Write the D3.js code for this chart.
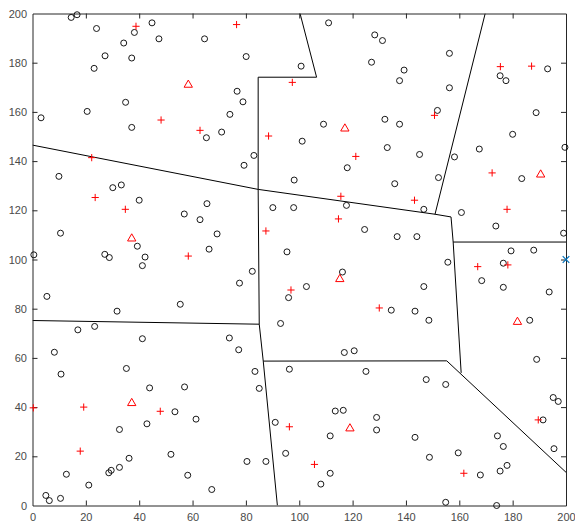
<!DOCTYPE html>
<html>
<head>
<meta charset="utf-8">
<script src="https://cdn.jsdelivr.net/npm/d3@7"></script>
<style>
    html, body { margin: 0; padding: 0; background: #fff; }
    svg { display: block; font-family: 'Liberation Sans', Arial, sans-serif; }
</style>
</head>
<body>
<svg id="chart" width="575" height="523"></svg>
<script>
// black circles
let circlePts = [
    [14.5, 198.4], [16.7, 199.5], [24, 193.9], [38.2, 192.3], [44.8, 196.2], [47.4, 189.7], [64.5, 189.7],
    [34.2, 188], [27.2, 182.8], [37.2, 181.9], [23.1, 177.7], [34.9, 163.9], [3.2, 157.6], [20.5, 160.2],
    [37.2, 153.7], [65.2, 149.5], [9.9, 133.8],
    [80.1, 182.5], [100.7, 178.6], [111, 196.2], [128.3, 191.3], [131.2, 189], [127.1, 180.2], [76.7, 168.4],
    [78.9, 164.1], [74, 159], [70.9, 151.8], [109.1, 155], [132.1, 157], [133, 145.5], [101.1, 148.1],
    [118, 137.3], [83, 142.3], [79.3, 138.3], [98.1, 132.3],
    [156.3, 183.8], [139.3, 177], [137.6, 172.7], [156.3, 169.8], [193.1, 177.5], [175.3, 174.7], [177.5, 172.7],
    [137.6, 155], [151.8, 160.6], [188.8, 159.7], [180, 150.9], [145.1, 142.7], [158.2, 141.7], [167.5, 144.9],
    [199.6, 145.6], [183.4, 132.9], [152.2, 133.3],
    [30.1, 129.2], [33.3, 130.3], [40, 124.1], [65.4, 122.7], [56.9, 118.5], [62.8, 116.2], [10.5, 110.7],
    [39.3, 105.4], [0.5, 101.9], [27.1, 102.1], [28.8, 100.8], [42.2, 101], [41.2, 97.5], [66.2, 104.2],
    [5.4, 85], [55.4, 81.8], [31.7, 79], [17, 71.4], [23.3, 72.8], [41.2, 67.8],
    [69.2, 110.4], [90.1, 121.1], [97.9, 121.1], [117.7, 122], [124.5, 112.2], [95.4, 103.1], [82.4, 95.2],
    [77.6, 90.4], [116.2, 94.9], [102.7, 89], [96, 84.5], [93, 74], [73.8, 68.1],
    [135.8, 130.8], [146.7, 120.4], [160.8, 119.1], [173.7, 113.6], [199.1, 110.7], [136.7, 109.3], [144.1, 109.3],
    [179.4, 103.5], [187.9, 103.8], [155.7, 98.9], [176.5, 98.5], [168.4, 91.4], [176.5, 88.7], [193.7, 86.8],
    [146.7, 89], [134.5, 79.4], [143.4, 79], [148.6, 75.3], [186.4, 75.3],
    [8.2, 62.3], [10.7, 53.4], [35.2, 55.7], [43.9, 47.8], [57, 48.2], [53.4, 38.1], [61.3, 35.1],
    [42.9, 33.2], [32.6, 30.9], [51.9, 20.8], [36.2, 19.2], [32.6, 15.5], [29.5, 14.3], [28.6, 13.3],
    [12.7, 12.7], [58.2, 12.3], [21.1, 8.3], [67.2, 6.5], [5, 4.1], [6.3, 2], [10.5, 2.9],
    [77.3, 63.3], [116.9, 62.2], [120.6, 62.9], [96.3, 55.4], [125, 54.5], [83.4, 54.5], [85, 47.6],
    [113.5, 38.4], [116.5, 38.7], [129, 35.8], [129, 30.7], [91, 33.8], [111.6, 28.3], [94.9, 21.2],
    [111.6, 13.1], [108.1, 8.7], [80.4, 17.9], [87.5, 17.9],
    [189, 59.4], [147.6, 51.2], [154.9, 49.2], [195.2, 43.9], [197.1, 42.3], [191.4, 34.8], [143.4, 27.7],
    [174.3, 28.3], [176.5, 24], [195.5, 23.1], [159.6, 21.4], [148.8, 19.6], [177.9, 16.3], [175.3, 14],
    [167.9, 12.4], [154.9, 1.3], [174, 0]
];

// red plus signs
let plusPts = [
    [38.8, 194.8], [48.2, 156.7], [62.8, 152.5], [22.2, 141.4], [76.5, 195.5], [97.4, 172], [88.5, 150.2],
    [121.2, 141.9], [175.4, 178.4], [187.1, 178.6], [150.7, 158.6], [172.3, 135.2], [23.5, 125.2], [34.8, 120.4],
    [58.4, 101.4], [115.6, 125.7], [114.7, 116.5], [87.5, 111.6], [96.9, 87.6], [130, 80.3], [143.2, 124.1],
    [177.9, 120.4], [166.9, 97.1], [178.2, 97.8], [0.3, 39.7], [19.2, 40], [47.9, 38.3], [17.9, 22.1],
    [96.3, 32], [105.7, 16.7], [189.6, 34.8], [161.7, 13.1]
];

// red triangles
let trianglePts = [
    [58.4, 171], [117.1, 153.2], [190.5, 134.5], [37.2, 108.5], [115.2, 92], [181.8, 74.6], [37.2, 41.6], [119, 31.3]
];

// blue cross
let crossPts = [[200, 100]];

// partition edges: x1, y1, x2, y2
let edges = [
    [0, 146.5, 84.6, 128.5],
    [84.6, 128.5, 84.6, 174.1],
    [84.6, 174.1, 106.5, 174.1],
    [106.5, 174.1, 100.3, 200],
    [84.6, 128.5, 150.9, 118.4],
    [150.9, 118.4, 169.7, 200],
    [150.9, 118.4, 156.9, 117.3],
    [156.9, 117.3, 157.7, 107.1],
    [157.7, 107.1, 200, 107.1],
    [157.7, 107.1, 160.7, 53.9],
    [155.3, 58.8, 200, 13.5],
    [86.5, 58.7, 155.3, 58.8],
    [84.6, 128.5, 85, 73.7],
    [0, 75.2, 85, 73.7],
    [85, 73.7, 86.5, 58.7],
    [86.5, 58.7, 91.8, 0]
];

let tickValues = [0, 20, 40, 60, 80, 100, 120, 140, 160, 180, 200];

function draw_chart(selector) {
    let svg = d3.select(selector),
        left = 32.5, right = 566, top = 13.5, bottom = 505.5,
        axisColor = '#262626',
        labelColor = '#4a4a4a',
        tickLen = 5;

    let x = d3.scaleLinear().domain([0, 200]).range([left, right]);
    let y = d3.scaleLinear().domain([0, 200]).range([bottom, top]);

    svg.append('rect')
        .attr('width', 575).attr('height', 523)
        .attr('fill', '#fff');

    svg.append('clipPath').attr('id', 'plot-clip')
        .append('rect')
        .attr('x', left).attr('y', top)
        .attr('width', right - left).attr('height', bottom - top);

    // edges
    svg.append('g')
        .attr('clip-path', 'url(#plot-clip)')
        .selectAll('line')
        .data(edges)
        .enter().append('line')
        .attr('x1', function (d) { return x(d[0]); })
        .attr('y1', function (d) { return y(d[1]); })
        .attr('x2', function (d) { return x(d[2]); })
        .attr('y2', function (d) { return y(d[3]); })
        .attr('stroke', '#000')
        .attr('stroke-width', 1);

    // axes, MATLAB style box with inward ticks
    let gBottom = svg.append('g').attr('transform', 'translate(0,' + bottom + ')')
        .call(d3.axisBottom(x).tickValues(tickValues).tickSizeInner(-tickLen).tickSizeOuter(0).tickPadding(8));
    let gTop = svg.append('g').attr('transform', 'translate(0,' + top + ')')
        .call(d3.axisTop(x).tickValues(tickValues).tickSizeInner(-tickLen).tickSizeOuter(0).tickFormat(''));
    let gLeft = svg.append('g').attr('transform', 'translate(' + left + ',0)')
        .call(d3.axisLeft(y).tickValues(tickValues).tickSizeInner(-tickLen).tickSizeOuter(0).tickPadding(5.5));
    let gRight = svg.append('g').attr('transform', 'translate(' + right + ',0)')
        .call(d3.axisRight(y).tickValues(tickValues).tickSizeInner(-tickLen).tickSizeOuter(0).tickFormat(''));

    [gBottom, gTop, gLeft, gRight].forEach(function (g) {
        g.select('.domain').attr('stroke', axisColor).attr('stroke-width', 1);
        g.selectAll('.tick line').attr('stroke', axisColor).attr('stroke-width', 1);
        g.selectAll('.tick text')
            .attr('fill', labelColor)
            .style('font-family', "'Liberation Sans', Arial, sans-serif")
            .style('font-size', '11px');
    });
    // hide the end ticks that sit on the box corners
    svg.selectAll('.tick line').filter(function (d) { return d === 0 || d === 200; }).remove();

    // circles
    svg.append('g')
        .selectAll('circle')
        .data(circlePts)
        .enter().append('circle')
        .attr('cx', function (d) { return x(d[0]); })
        .attr('cy', function (d) { return y(d[1]); })
        .attr('r', 3)
        .attr('fill', 'none')
        .attr('stroke', '#000')
        .attr('stroke-width', 0.9);

    // plus signs
    svg.append('g')
        .selectAll('path')
        .data(plusPts)
        .enter().append('path')
        .attr('d', function (d) {
            let cx = x(d[0]), cy = y(d[1]), s = 3.6;
            return 'M' + (cx - s) + ',' + cy + 'H' + (cx + s) + 'M' + cx + ',' + (cy - s) + 'V' + (cy + s);
        })
        .attr('stroke', '#ff0000')
        .attr('stroke-width', 1)
        .attr('fill', 'none');

    // triangles
    let tri = d3.symbol().type(d3.symbolTriangle).size(30);
    svg.append('g')
        .selectAll('path')
        .data(trianglePts)
        .enter().append('path')
        .attr('d', tri)
        .attr('transform', function (d) { return 'translate(' + x(d[0]) + ',' + y(d[1]) + ')'; })
        .attr('fill', 'none')
        .attr('stroke', '#ff0000')
        .attr('stroke-width', 1);

    // blue cross
    svg.append('g')
        .selectAll('path')
        .data(crossPts)
        .enter().append('path')
        .attr('d', function (d) {
            let cx = x(d[0]), cy = y(d[1]), s = 3.3;
            return 'M' + (cx - s) + ',' + (cy - s) + 'L' + (cx + s) + ',' + (cy + s) +
                'M' + (cx - s) + ',' + (cy + s) + 'L' + (cx + s) + ',' + (cy - s);
        })
        .attr('stroke', '#0072bd')
        .attr('stroke-width', 1.2)
        .attr('fill', 'none');
}

draw_chart('#chart');
</script>
</body>
</html>
